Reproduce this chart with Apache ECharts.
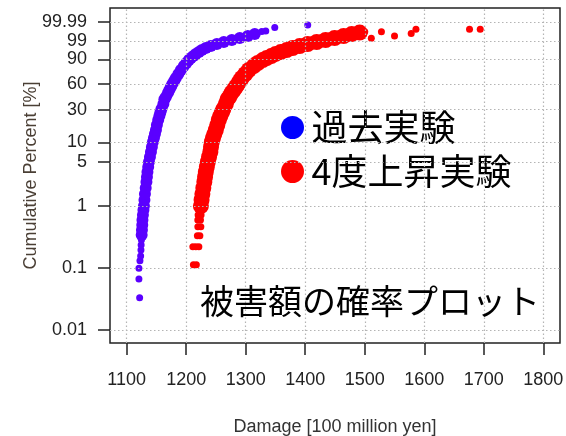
<!DOCTYPE html>
<html>
<head>
<meta charset="utf-8">
<script src="https://cdn.jsdelivr.net/npm/echarts@6/dist/echarts.min.js"></script>
<style>
  html, body { margin: 0; padding: 0; background: #fff; }
  #chart { width: 566px; height: 436px; }
</style>
</head>
<body>
<div id="chart"></div>
<script>
// 累積確率 [%] と被害額 [100 million yen]
const pastPercent = [0.339, 0.408, 0.491, 0.59, 0.711, 0.855, 0.99, 1.237, 1.54, 1.924, 2.40, 2.879, 3.46, 4.146, 4.97, 5.953, 7.12, 8.512, 10.2, 11.68, 13.4, 15.4, 18.2, 21.52, 24.5, 27.61, 30.5, 35.5, 40.71, 43.4, 48.31, 52.2, 56.16, 60.2, 64.31, 68.4, 73.7, 78.8, 83.4, 86.6, 89.4, 91.1, 92.6, 94.0, 95.1, 96.1, 97.0, 97.7, 98.3, 98.75, 99.11, 99.38, 99.58, 99.72];
const pastDamage = [1125.2, 1125.7, 1126.2, 1126.5, 1127.3, 1128.2, 1129.0, 1129.9, 1130.7, 1132.0, 1133.2, 1134.1, 1134.9, 1136.2, 1137.4, 1139.1, 1140.8, 1142.4, 1144.1, 1145.8, 1147.5, 1149.2, 1150.8, 1153.0, 1155.0, 1156.7, 1158.4, 1161.7, 1163.4, 1165.9, 1169.3, 1171.8, 1174.3, 1176.8, 1179.8, 1182.7, 1186.9, 1191.1, 1196.1, 1200.3, 1204.5, 1207.9, 1212.1, 1216.2, 1221.3, 1226.3, 1233.0, 1241.4, 1251.5, 1263.2, 1276.6, 1290.0, 1303.5, 1315.2];
const pastTailPercent = [0.0332, 0.0664, 0.0987, 0.131, 0.156, 0.195, 0.234, 0.282, 99.845, 99.862, 99.945, 99.973];
const pastTailDamage = [1121.8, 1120.6, 1120.6, 1122.3, 1123.5, 1124.0, 1124.3, 1124.8, 1327.0, 1333.7, 1348.8, 1404.2];

const warmPercent = [0.99, 1.237, 1.54, 1.924, 2.40, 2.879, 3.46, 4.146, 4.97, 5.953, 7.12, 8.512, 10.2, 11.68, 13.4, 15.4, 18.2, 21.52, 24.5, 27.61, 30.5, 35.5, 40.71, 43.4, 48.31, 52.2, 56.16, 60.2, 64.31, 68.4, 73.7, 78.8, 83.4, 86.6, 89.4, 91.1, 92.6, 94.0, 95.1, 96.1, 97.0, 97.7, 98.3, 98.75, 99.11, 99.38, 99.58, 99.72, 99.80];
const warmDamage = [1224.7, 1225.8, 1227.2, 1228.8, 1230.5, 1231.7, 1233.0, 1234.7, 1236.4, 1238.4, 1240.6, 1241.7, 1243.1, 1245.1, 1247.3, 1249.8, 1252.3, 1254.8, 1257.4, 1260.2, 1262.4, 1266.6, 1269.4, 1272.4, 1276.1, 1280.0, 1283.4, 1286.7, 1290.1, 1293.4, 1299.3, 1305.2, 1313.5, 1320.3, 1328.6, 1335.4, 1342.9, 1350.4, 1358.8, 1368.9, 1378.9, 1390.7, 1404.1, 1419.2, 1434.3, 1449.4, 1464.5, 1478.0, 1491.4];
const warmTailPercent = [0.112, 0.112, 0.22, 0.22, 0.22, 0.33, 0.33, 0.46, 0.46, 0.59, 0.59, 0.711, 0.711, 0.855, 0.855, 99.34, 99.84, 99.84, 99.58, 99.76, 99.91, 99.91, 99.91];
const warmTailDamage = [1212.1, 1217.1, 1211.2, 1216.2, 1221.3, 1218.8, 1223.0, 1219.6, 1224.6, 1219.5, 1224.0, 1220.0, 1225.0, 1221.0, 1226.0, 1511, 1500, 1528, 1550, 1578, 1586, 1676, 1694];

const xTicks = [1100, 1200, 1300, 1400, 1500, 1600, 1700, 1800];
const yTickPercent = [0.01, 0.1, 1, 5, 10, 30, 60, 90, 99, 99.99];
const yTickLabels = ['0.01', '0.1', '1', '5', '10', '30', '60', '90', '99', '99.99'];

// ワイブル確率紙の縦軸: log10(-ln(1-p))
function wb(p) {
  return Math.log10(-Math.log(1 - p / 100));
}
function toPoints(damage, percent) {
  return damage.map((d, i) => [d, wb(percent[i])]);
}
const yTickValues = yTickPercent.map(wb);

const latin = '"Liberation Sans", Arial, sans-serif';
const cjk = '"Noto Sans CJK JP", sans-serif';
const dotted = { color: '#b4b4b4', width: 1.2, type: [1.5, 2.5] };

const chart = echarts.init(document.getElementById('chart'));
chart.setOption({
  animation: false,
  title: {
    text: '被害額の確率プロット',
    left: 195,
    top: 279,
    textStyle: { fontFamily: cjk, fontSize: 34, fontWeight: 'normal', color: '#000' }
  },
  legend: {
    orient: 'vertical',
    left: 276,
    top: 104,
    icon: 'circle',
    itemWidth: 28,
    itemHeight: 23,
    itemGap: 7,
    textStyle: { fontFamily: cjk, fontSize: 36, color: '#000', lineHeight: 37 },
    data: [
      { name: '過去実験', itemStyle: { color: '#0000ff' } },
      { name: '4度上昇実験', itemStyle: { color: '#ff0000' } }
    ]
  },
  grid: {
    left: 110, top: 8, right: 6, bottom: 93,
    outerBoundsMode: 'none',
    show: true, borderColor: '#222', borderWidth: 1.5
  },
  xAxis: {
    type: 'value',
    min: 1072, max: 1828,
    name: 'Damage [100 million yen]',
    nameLocation: 'middle',
    nameGap: 75,
    nameMoveOverlap: false,
    nameTextStyle: { fontFamily: latin, fontSize: 18, color: '#333' },
    axisLine: { show: false, onZero: false },
    axisTick: { show: true, inside: false, length: 12, customValues: xTicks, lineStyle: { color: '#222', width: 1.5 } },
    axisLabel: { customValues: xTicks, margin: 28, fontFamily: latin, fontSize: 18, color: '#222', formatter: v => String(v) },
    splitLine: { show: false }
  },
  yAxis: {
    type: 'value',
    min: -4.21, max: 1.19,
    name: 'Cumulative Percent [%]',
    nameLocation: 'middle',
    nameGap: 70,
    nameMoveOverlap: false,
    nameTextStyle: { fontFamily: latin, fontSize: 18, color: '#4a3f35' },
    axisLine: { show: false, onZero: false },
    axisTick: { show: true, inside: false, length: 12, customValues: yTickValues, lineStyle: { color: '#222', width: 1.5 } },
    axisLabel: {
      customValues: yTickValues,
      margin: 23,
      fontFamily: latin, fontSize: 18, color: '#222',
      formatter: function (v) {
        let best = 0;
        yTickValues.forEach((t, i) => { if (Math.abs(t - v) < Math.abs(yTickValues[best] - v)) best = i; });
        return yTickLabels[best];
      }
    },
    splitLine: { show: false }
  },
  series: [
    {
      // 点線の格子（目盛位置）
      type: 'scatter', z: 1, silent: true, data: [],
      markLine: {
        silent: true, symbol: 'none', label: { show: false }, lineStyle: dotted,
        data: xTicks.map(v => ({ xAxis: v })).concat(yTickValues.map(v => ({ yAxis: v })))
      }
    },
    { name: '過去実験', type: 'scatter', symbolSize: 12, itemStyle: { color: '#5a00ff', opacity: 1 }, data: toPoints(pastDamage, pastPercent) },
    { name: '過去実験', type: 'scatter', symbolSize: 7, itemStyle: { color: '#5a00ff', opacity: 1 }, data: toPoints(pastTailDamage, pastTailPercent) },
    { name: '4度上昇実験', type: 'scatter', symbolSize: 16, itemStyle: { color: '#ff0000', opacity: 1 }, data: toPoints(warmDamage, warmPercent) },
    { name: '4度上昇実験', type: 'scatter', symbolSize: 7, itemStyle: { color: '#ff0000', opacity: 1 }, data: toPoints(warmTailDamage, warmTailPercent) }
  ]
});
</script>
</body>
</html>
